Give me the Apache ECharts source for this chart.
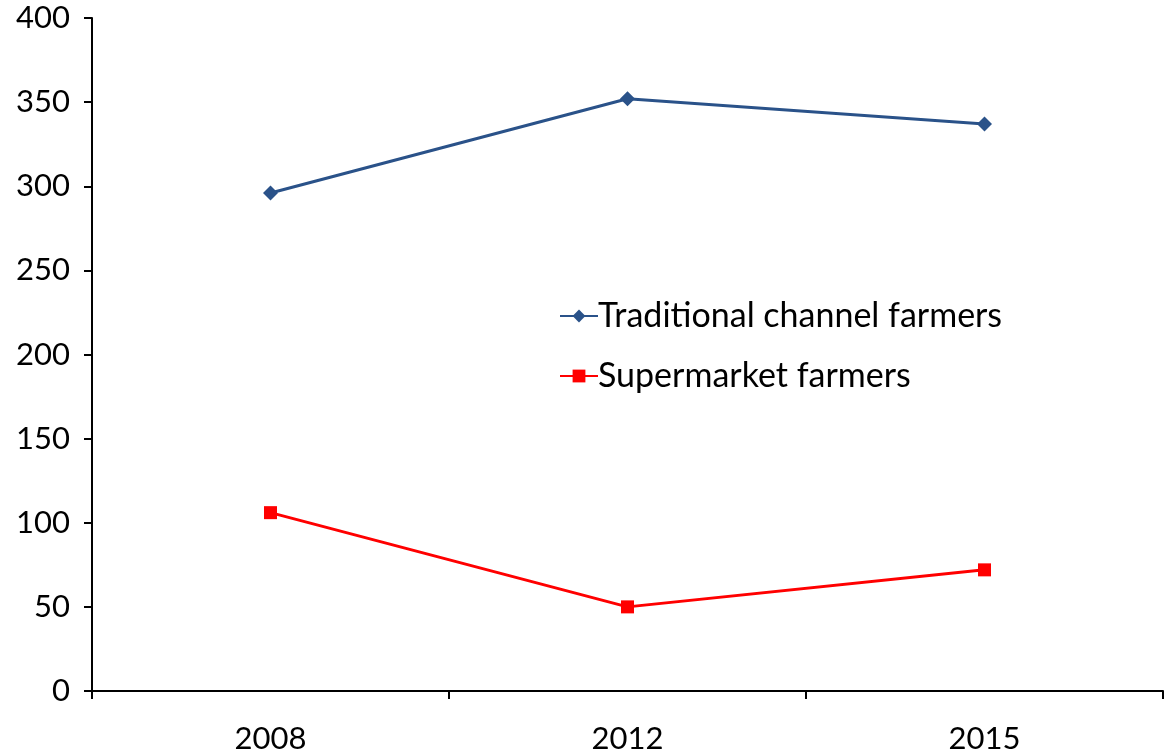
<!DOCTYPE html>
<html><head><meta charset="utf-8">
<script src="https://cdn.jsdelivr.net/npm/echarts@6/dist/echarts.min.js"></script>
<style>html,body{margin:0;padding:0;background:#fff}#c{width:1170px;height:756px}</style>
</head><body><div id="c"></div>
<script>
const categories = ['2008', '2012', '2015'];
const traditional = [296, 352, 337];
const supermarket = [106, 50, 72];
const seriesNames = ['Traditional channel farmers', 'Supermarket farmers'];

const FONT = 'Lato, "Open Sans", sans-serif';
const chart = echarts.init(document.getElementById('c'));
chart.setOption({
  animation: false,
  backgroundColor: '#fff',
  grid: { left: 92, top: 18, right: 7, bottom: 65, containLabel: false },
  legend: {
    orient: 'vertical', left: 554, top: 294, itemGap: 26,
    itemWidth: 38, itemHeight: 16,
    textStyle: { fontFamily: FONT, fontSize: 34, color: '#000', padding: [0,0,0,-5] },
    data: seriesNames
  },
  xAxis: {
    type: 'category', data: categories, boundaryGap: true,
    axisLine: { lineStyle: { color: '#000', width: 2 } },
    axisTick: { show: true, length: 8, inside: false, lineStyle: { color: '#000', width: 2 } },
    axisLabel: { fontFamily: FONT, fontSize: 31, color: '#000', margin: 32 },
    splitLine: { show: false }
  },
  yAxis: {
    type: 'value', min: 0, max: 400, interval: 50,
    axisLine: { show: true, lineStyle: { color: '#000', width: 2 } },
    axisTick: { show: true, length: 8, lineStyle: { color: '#000', width: 2 } },
    axisLabel: { fontFamily: FONT, fontSize: 31, color: '#000', margin: 22 },
    splitLine: { show: false }
  },
  series: [
    { name: seriesNames[0], type: 'line', data: traditional,
      symbol: 'diamond', symbolSize: 15,
      lineStyle: { color: '#2A5289', width: 3 },
      itemStyle: { color: '#2A5289' } },
    { name: seriesNames[1], type: 'line', data: supermarket,
      symbol: 'rect', symbolSize: 13,
      lineStyle: { color: '#FF0000', width: 3 },
      itemStyle: { color: '#FF0000' } }
  ]
});
</script></body></html>
